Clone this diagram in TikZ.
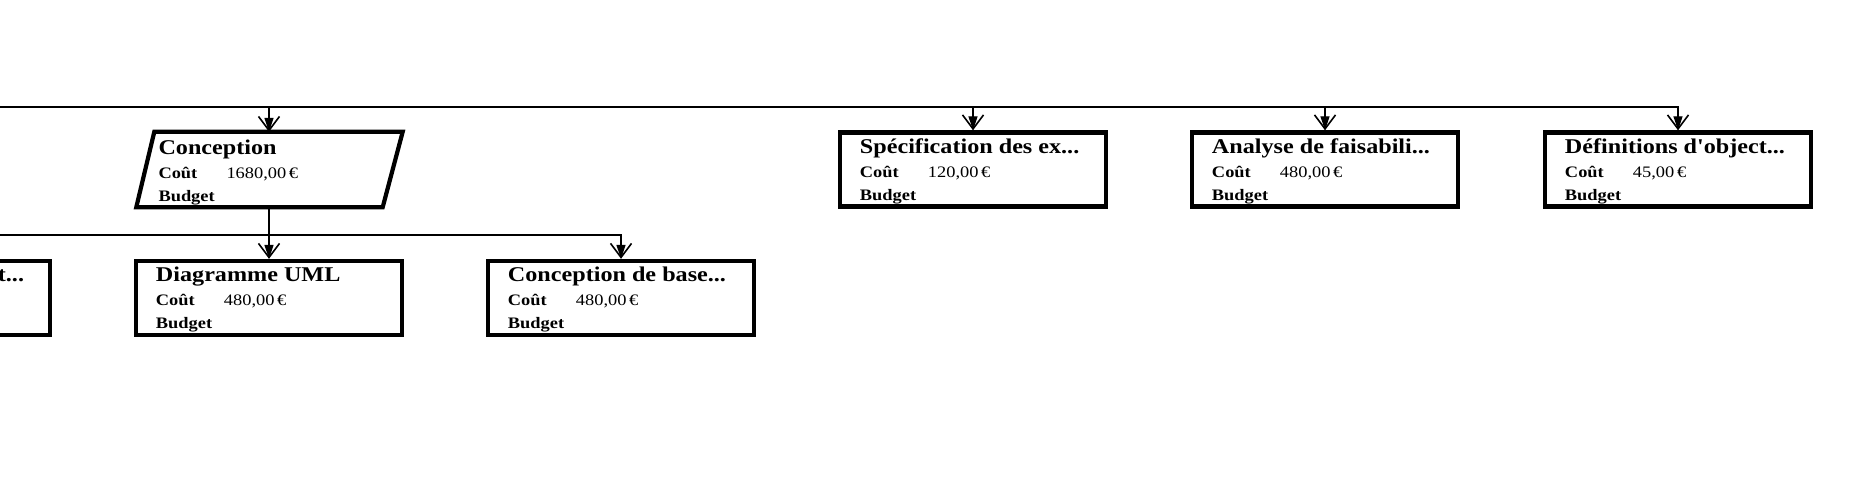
\documentclass[tikz,border=0pt]{standalone}
\usepackage{fontspec}
\setmainfont{Liberation Serif}
\newfontfamily\boxfont{Liberation Serif}[FakeStretch=1.15]
\usetikzlibrary{arrows.meta,calc}
\newcommand\taskrows[3]{% #1 node name, #2 title, #3 value
  \node[ttl, anchor=base west] (#1-t) at ([xshift=22pt,yshift=-23pt]#1.north west) {#2};
  \node[lbl, anchor=base west] (#1-c) at ([xshift=22pt,yshift=-47pt]#1.north west) {Coût};
  \node[val, anchor=base west] (#1-v) at ([xshift=90pt,yshift=-47pt]#1.north west) {#3};
  \node[lbl, anchor=base west] (#1-b) at ([xshift=22pt,yshift=-70pt]#1.north west) {Budget};
}
\begin{document}
\begin{tikzpicture}[x=1pt,y=-1pt,
  box/.style={draw, line width=4.5pt, minimum width=266pt, minimum height=74pt, inner sep=0pt},
  pbox/.style={minimum width=265pt, minimum height=75pt, inner sep=0pt},
  pborder/.style={line width=4.2pt, line join=miter},
  conn/.style={line width=1.4pt},
  arr/.style={conn, -{Straight Barb[length=14pt,width=21pt,line width=1.6pt,sep=-14pt]Triangle[length=14pt,width=9pt]}},
  ttl/.style={font=\boxfont\fontsize{21}{21}\selectfont\bfseries, inner sep=0pt},
  lbl/.style={font=\boxfont\fontsize{16}{16}\selectfont\bfseries, inner sep=0pt},
  val/.style={font=\boxfont\fontsize{16}{16}\selectfont, inner sep=0pt}]
\useasboundingbox (0,0) rectangle (1849,485);
\clip (0,0) rectangle (1849,485);
\fill[white] (0,0) rectangle (1849,485);

% level 1
\node[pbox] (conc) at (269,169.5) {};
\draw[pborder] ([xshift=18pt]conc.north west) -- ([xshift=1pt]conc.north east)
  -- ([xshift=-19pt]conc.south east) -- (conc.south west) -- cycle;
\taskrows{conc}{Conception}{1680,00\,€}

\node[box] (spec) at (973,169.5) {};
\taskrows{spec}{Spécification des ex...}{120,00\,€}

\node[box] (anal) at (1325,169.5) {};
\taskrows{anal}{Analyse de faisabili...}{480,00\,€}

\node[box] (defs) at (1678,169.5) {};
\taskrows{defs}{Définitions d'object...}{45,00\,€}

% level 2
\node[box] (tbox) at (-83,298) {};
\node[ttl, anchor=base east] (tbox-t) at ([xshift=-28pt,yshift=-23pt]tbox.north east) {t...};

\node[box] (diag) at (269,298) {};
\taskrows{diag}{Diagramme UML}{480,00\,€}

\node[box] (cbase) at (621,298) {};
\taskrows{cbase}{Conception de base...}{480,00\,€}

% connectors
\coordinate (b1) at (-10,107);
\coordinate (b2) at (-10,235);
\draw[arr] (b1) -| (defs.north);
\draw[arr] (b1 -| conc.north) -- (conc.north);
\draw[arr] (b1 -| spec.north) -- (spec.north);
\draw[arr] (b1 -| anal.north) -- (anal.north);

\draw[arr] (conc.south) -- (diag.north);
\draw[arr] (b2 -| tbox.north) -| (cbase.north);
\draw[arr] (b2 -| tbox.north) -- (tbox.north);
\end{tikzpicture}
\end{document}
